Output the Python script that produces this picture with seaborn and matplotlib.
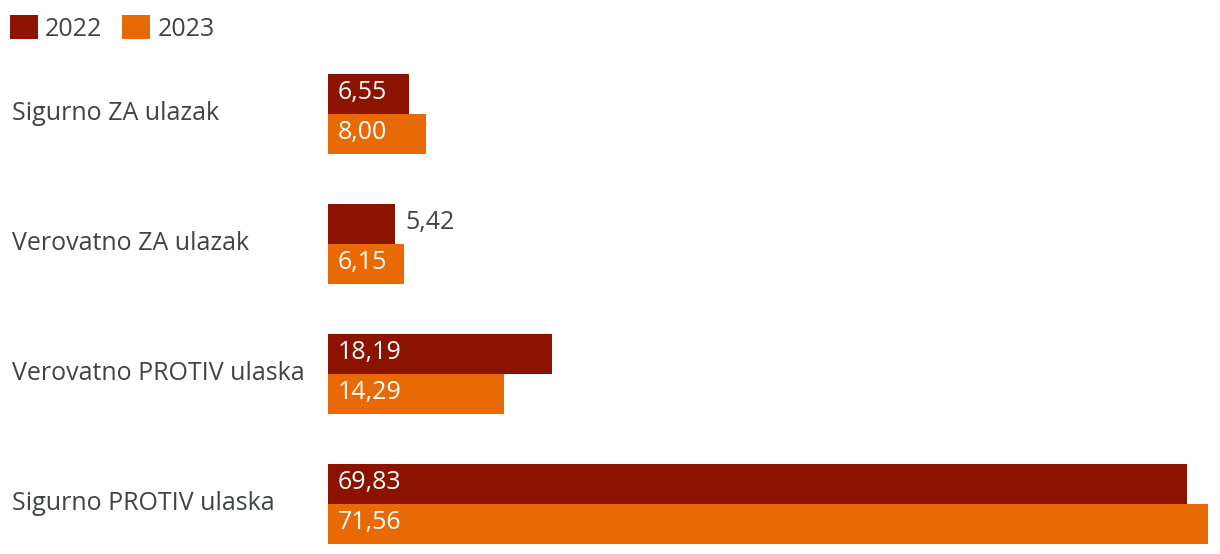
import matplotlib
matplotlib.use("Agg")
import matplotlib.pyplot as plt
import seaborn as sns
import pandas as pd
from matplotlib.patches import Patch
from matplotlib.transforms import ScaledTranslation

categories = ["Sigurno ZA ulazak", "Verovatno ZA ulazak", "Verovatno PROTIV ulaska", "Sigurno PROTIV ulaska"]
years = ["2022", "2023"]
values_2022 = [6.55, 5.42, 18.19, 69.83]
values_2023 = [8.00, 6.15, 14.29, 71.56]

colors = {"2022": "#8C1300", "2023": "#E96A05"}
text_color = "#3F4444"

sns.set_theme(style="white")
plt.rcParams["font.family"] = ["Open Sans", "DejaVu Sans"]
FS = 18

df = pd.DataFrame({
    "category": categories * 2,
    "year": ["2022"] * 4 + ["2023"] * 4,
    "value": values_2022 + values_2023,
})

W, H = 1220, 554
fig = plt.figure(figsize=(W / 100, H / 100), dpi=100)
left, right, top, bottom = 328, 1208, 74, 544
ax = fig.add_axes([left / W, 1 - bottom / H, (right - left) / W, (bottom - top) / H])

bw = 80 / 130
sns.barplot(data=df, y="category", x="value", hue="year", orient="h",
            palette=colors, width=bw, dodge=True, ax=ax, legend=False,
            saturation=1, edgecolor="none", linewidth=0)

ax.set_xlim(0, max(values_2023 + values_2022))
ax.set_ylim(3 + bw / 2, -bw / 2)
for s in ax.spines.values():
    s.set_visible(False)
ax.set_xticks([])
ax.set_xlabel("")
ax.set_ylabel("")
ax.set_yticks(range(len(categories)))
ax.set_yticklabels(categories, ha="left", color=text_color, fontsize=FS)
ax.tick_params(axis="y", length=0, pad=(left - 12) * 72 / 100)
for t in ax.get_yticklabels():
    t.set_transform(t.get_transform() + ScaledTranslation(0, 4 / 100, fig.dpi_scale_trans))

for cont, vals in zip(ax.containers, [values_2022, values_2023]):
    for rect, v in zip(cont, vals):
        y = rect.get_y() + rect.get_height() / 2
        lbl = f"{v:.2f}".replace(".", ",")
        if v < 6:
            ax.annotate(lbl, (v, y), xytext=(8, 1), textcoords="offset points",
                        ha="left", va="center", color=text_color, fontsize=FS)
        else:
            ax.annotate(lbl, (0, y), xytext=(7, 1), textcoords="offset points",
                        ha="left", va="center", color="white", fontsize=FS)

handles = [Patch(facecolor=colors[y], edgecolor="none", label=y) for y in years]
fig.legend(handles=handles, loc="upper left", bbox_to_anchor=(10 / W, 1 - 15 / H),
           frameon=False, ncol=2, fontsize=FS, handlelength=1.12, handleheight=1.12,
           handletextpad=0.28, columnspacing=0.8, borderpad=0, borderaxespad=0,
           labelcolor=text_color)

fig.savefig("out.png", dpi=100)
